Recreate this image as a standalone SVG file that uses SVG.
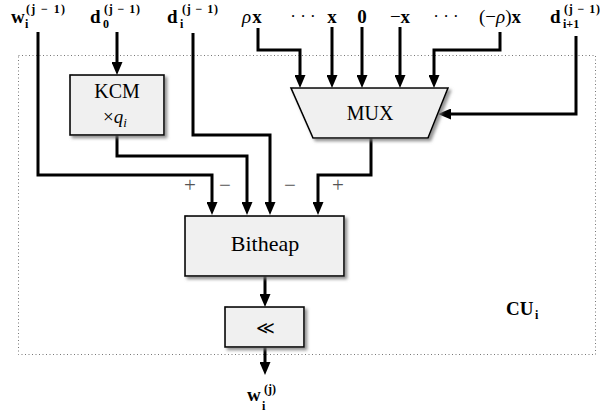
<svg xmlns="http://www.w3.org/2000/svg" width="600" height="417" viewBox="0 0 600 417">
<style>
text{font-family:"Liberation Serif","DejaVu Serif",serif;fill:#000}
.b{font-weight:bold}
.lab{font-size:19px;font-weight:bold}
.sub{font-size:12px;font-weight:bold}
.sgn{font-size:21px;fill:#555}
.box{fill:#f0f0f0;stroke:#000;stroke-width:1.6}
.wire{fill:none;stroke:#000;stroke-width:3;marker-end:url(#ah)}
</style>
<defs>
<marker id="ah" markerUnits="userSpaceOnUse" viewBox="0 0 13 11" refX="0" refY="5.5" markerWidth="13" markerHeight="11" orient="auto">
<path d="M0,0 L13,5.5 L0,11 z" fill="#000"/>
</marker>
<filter id="sh" x="-10%" y="-10%" width="130%" height="140%">
<feDropShadow dx="2.5" dy="2.5" stdDeviation="1.5" flood-color="#777" flood-opacity="0.8"/>
</filter>
</defs>
<rect x="18.5" y="55.5" width="577" height="299" fill="none" stroke="#777" stroke-width="1" stroke-dasharray="1,2.5"/>

<g id="connectors">
<path class="wire" d="M38,32 V175 H212 V202"/>
<path class="wire" d="M117,32 V62"/>
<path class="wire" d="M117,135 V156 H247 V202"/>
<path class="wire" d="M193,33 V135 H270 V202"/>
<path class="wire" d="M258,28 V50 H300 V75"/>
<path class="wire" d="M332,27 V75"/>
<path class="wire" d="M362,27 V75"/>
<path class="wire" d="M400,27 V75"/>
<path class="wire" d="M500,32 V50 H434 V75"/>
<path class="wire" d="M576,36 V114 H451"/>
<path class="wire" d="M371,138 V175 H318 V202"/>
<path class="wire" d="M265,276 V294"/>
<path class="wire" d="M265,347 V362"/>
</g>

<g id="kcm">
<rect class="box" x="70" y="75" width="94" height="60" filter="url(#sh)"/>
<text x="117" y="98" font-size="20" text-anchor="middle">KCM</text>
<text x="103" y="123" font-size="19">×<tspan font-style="italic">q</tspan><tspan font-size="13" font-style="italic" dy="4">i</tspan></text>
</g>

<g id="mux">
<polygon class="box" points="291,88 448,88 428,138 313,138" filter="url(#sh)"/>
<text x="370" y="120" font-size="20" text-anchor="middle">MUX</text>
</g>

<g id="bitheap">
<rect class="box" x="185" y="216" width="159" height="60" filter="url(#sh)"/>
<text x="265" y="251" font-size="22" text-anchor="middle">Bitheap</text>
</g>

<g id="shift">
<rect class="box" x="225" y="307" width="79" height="40" filter="url(#sh)"/>
<text x="265" y="334" font-size="18" text-anchor="middle" style="font-family:'DejaVu Serif',serif">≪</text>
</g>

<g id="signs">
<text class="sgn" x="190" y="192" text-anchor="middle">+</text>
<text class="sgn" x="225" y="192" text-anchor="middle">−</text>
<text class="sgn" x="290" y="192" text-anchor="middle">−</text>
<text class="sgn" x="338" y="192" text-anchor="middle">+</text>
</g>

<g id="inputs">
<text class="lab" x="11" y="23">w</text>
<text class="sub" x="25" y="28">i</text>
<text class="sub" x="26" y="13" textLength="39" lengthAdjust="spacing">(j − 1)</text>

<text class="lab" x="90" y="23">d</text>
<text class="sub" x="103" y="28">0</text>
<text class="sub" x="104" y="13" textLength="36" lengthAdjust="spacing">(j − 1)</text>

<text class="lab" x="167" y="23">d</text>
<text class="sub" x="180" y="28">i</text>
<text class="sub" x="182" y="13" textLength="36" lengthAdjust="spacing">(j − 1)</text>

<text x="242" y="23" font-size="19"><tspan font-style="italic">ρ</tspan><tspan font-weight="bold" dx="1">x</tspan></text>
<text x="303" y="22" font-size="17" text-anchor="middle">· · ·</text>
<text class="lab" x="332" y="23" text-anchor="middle">x</text>
<text class="lab" x="362" y="23" text-anchor="middle">0</text>
<text x="400" y="23" font-size="19" text-anchor="middle"><tspan>−</tspan><tspan font-weight="bold">x</tspan></text>
<text x="446" y="22" font-size="17" text-anchor="middle">· · ·</text>
<text x="500" y="23" font-size="19" text-anchor="middle"><tspan>(−</tspan><tspan font-style="italic">ρ</tspan><tspan>)</tspan><tspan font-weight="bold">x</tspan></text>

<text class="lab" x="550" y="23">d</text>
<text class="sub" x="563" y="28">i+1</text>
<text class="sub" x="564" y="13" textLength="36" lengthAdjust="spacing">(j − 1)</text>
</g>

<g id="output">
<text class="lab" x="247" y="401">w</text>
<text class="sub" x="262" y="410">i</text>
<text class="sub" x="264" y="393">(j)</text>
</g>

<g id="cu">
<text class="lab" x="506" y="315" font-size="18">CU</text>
<text class="sub" x="535" y="319">i</text>
</g>
</svg>
